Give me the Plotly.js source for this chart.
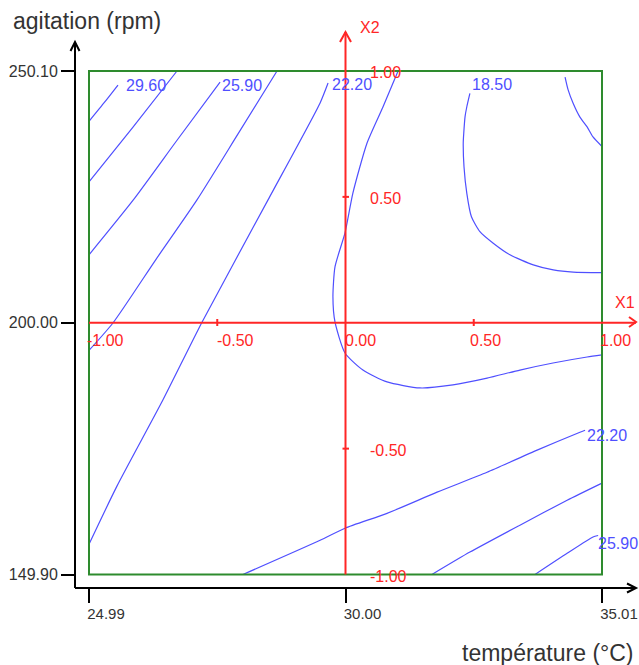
<!DOCTYPE html>
<html>
<head>
<meta charset="utf-8">
<script src="https://cdn.plot.ly/plotly-3.0.1.min.js"></script>
<style>html,body{margin:0;padding:0;background:#fff;}#chart{width:639px;height:665px;}</style>
</head>
<body>
<div id="chart"></div>
<script>
// ---------- DATA (coded units X1 / X2) ----------
const xTickVals = [-1, 0, 1];
const xTickText = ['24.99', '30.00', '35.01'];
const yTickVals = [-1, 0, 1];
const yTickText = ['149.90', '200.00', '250.10'];
const codedTickText = ['-1.00', '-0.50', '0.00', '0.50', '1.00'];
const contourLabels = ['29.60', '25.90', '22.20', '18.50', '22.20', '25.90'];

const c2960_x = [-1.0, -0.94, -0.887];
const c2960_y = [0.80, 0.875, 0.944];
const c2775_x = [-1.0, -0.83, -0.657];
const c2775_y = [0.56, 0.775, 1.0];
const c2590a_x = [-1.0, -0.828, -0.659, -0.489];
const c2590a_y = [0.27, 0.487, 0.722, 0.956];
const c2405a_x = [-1.0, -0.906, -0.74, -0.579, -0.419, -0.267];
const c2405a_y = [-0.11, 0.0, 0.25, 0.488, 0.75, 1.0];
const c2220a_x = [-1.0, -0.892, -0.712, -0.559, -0.302, -0.099, -0.068];
const c2220a_y = [-0.88, -0.651, -0.307, 0.003, 0.488, 0.873, 0.952];
const c2035_x = [0.205, 0.146, 0.084, 0.029, -0.002, -0.041, -0.049, -0.041, -0.002, 0.068, 0.162, 0.290, 0.419, 0.552, 0.680, 0.809, 0.942, 1.0];
const c2035_y = [1.0, 0.857, 0.714, 0.516, 0.357, 0.222, 0.103, 0.003, -0.120, -0.188, -0.235, -0.259, -0.247, -0.220, -0.188, -0.160, -0.136, -0.128];
const c1850_x = [0.485, 0.473, 0.466, 0.461, 0.459, 0.462, 0.473, 0.491, 0.524, 0.576, 0.641, 0.732, 0.810, 0.888, 1.0];
const c1850_y = [0.911, 0.858, 0.818, 0.753, 0.713, 0.620, 0.514, 0.421, 0.362, 0.316, 0.270, 0.230, 0.210, 0.201, 0.199];
const c1665_x = [0.856, 0.868, 0.887, 0.914, 0.942, 0.965, 1.0];
const c1665_y = [0.976, 0.925, 0.873, 0.817, 0.778, 0.738, 0.70];
const c2220b_x = [-0.40, -0.099, -0.002, 0.162, 0.357, 0.552, 0.747, 0.914, 0.934];
const c2220b_y = [-1.0, -0.864, -0.816, -0.757, -0.673, -0.594, -0.506, -0.435, -0.427];
const c2405b_x = [0.337, 0.485, 0.680, 0.864, 1.0];
const c2405b_y = [-1.0, -0.911, -0.804, -0.705, -0.637];
const c2590b_x = [0.739, 0.864, 0.965, 0.985];
const c2590b_y = [-1.0, -0.916, -0.851, -0.845];

// ---------- LAYOUT HELPERS (pixel -> coded / paper) ----------
const PX0 = 345.5, PXS = 256.5, PY0 = 322.75, PYS = 251.75;
const dx = p => (p - PX0) / PXS;
const dy = p => (PY0 - p) / PYS;
const L = 65, R = 639, T = 20, B = 598;
const qx = p => (p - L) / (R - L);
const qy = p => (B - p) / (B - T);

const BLUE = '#4f4fff', RED = '#ff2626', GREEN = '#2e8b2e', TXT = '#333333';
const FONT = 'Liberation Sans, Arial, sans-serif';

const lines = [
  [c2960_x, c2960_y], [c2775_x, c2775_y], [c2590a_x, c2590a_y], [c2405a_x, c2405a_y],
  [c2220a_x, c2220a_y], [c2035_x, c2035_y], [c1850_x, c1850_y], [c1665_x, c1665_y],
  [c2220b_x, c2220b_y], [c2405b_x, c2405b_y], [c2590b_x, c2590b_y]
];
const traces = lines.map(([x, y]) => ({
  type: 'scatter', mode: 'lines', x: x, y: y, hoverinfo: 'skip',
  line: {color: BLUE, width: 1.2, shape: 'spline', smoothing: 0.6}
}));

function seg(x0, y0, x1, y1, color, w) {
  return {type: 'line', xref: 'x', yref: 'y', x0: dx(x0), y0: dy(y0), x1: dx(x1), y1: dy(y1),
          line: {color: color, width: w}, layer: 'above'};
}
function pth(pts, color, w) {
  const d = pts.map((p, i) => (i ? 'L' : 'M') + dx(p[0]) + ',' + dy(p[1])).join(' ');
  return {type: 'path', xref: 'x', yref: 'y', path: d, line: {color: color, width: w}, layer: 'above'};
}

const shapes = [
  // green frame
  {type: 'rect', xref: 'x', yref: 'y', x0: -1, x1: 1, y0: -1, y1: 1, line: {color: GREEN, width: 2}, layer: 'above'},
  // red coded axes
  {type: 'line', xref: 'x', yref: 'y', x0: -1, x1: dx(636), y0: 0, y1: 0, line: {color: RED, width: 2}, layer: 'above'},
  {type: 'line', xref: 'x', yref: 'y', x0: 0, x1: 0, y0: -1, y1: dy(32), line: {color: RED, width: 2}, layer: 'above'},
  pth([[629, 317], [636, 322], [629, 327]], RED, 2),
  pth([[340, 42], [345.5, 32], [351, 42]], RED, 2),
  // red small ticks
  {type: 'line', xref: 'x', yref: 'y', x0: -0.5, x1: -0.5, y0: dy(319), y1: dy(326), line: {color: RED, width: 2}, layer: 'above'},
  {type: 'line', xref: 'x', yref: 'y', x0: 0.5, x1: 0.5, y0: dy(319), y1: dy(326), line: {color: RED, width: 2}, layer: 'above'},
  {type: 'line', xref: 'x', yref: 'y', x0: dx(342.5), x1: dx(349), y0: 0.5, y1: 0.5, line: {color: RED, width: 2}, layer: 'above'},
  {type: 'line', xref: 'x', yref: 'y', x0: dx(342.5), x1: dx(349), y0: -0.5, y1: -0.5, line: {color: RED, width: 2}, layer: 'above'},
  // black axes with arrows
  seg(75, 588, 75, 42, '#000', 2),
  seg(75, 588, 636, 588, '#000', 2),
  pth([[70.5, 51], [75, 42], [79.5, 51]], '#000', 2),
  pth([[627, 583.5], [636, 588], [627, 592.5]], '#000', 2)
];

function ann(text, px, py, color, size, xanchor) {
  return {text: text, xref: 'paper', yref: 'paper', x: qx(px), y: qy(py), showarrow: false,
          xanchor: xanchor || 'left', yanchor: 'middle', borderpad: 0,
          font: {family: FONT, size: size, color: color}};
}

const annotations = [
  ann('agitation (rpm)', 12, 21, TXT, 23),
  ann('température (°C)', 635, 653, TXT, 23, 'right'),
  // contour labels
  ann(contourLabels[0], 125, 86, BLUE, 16),
  ann(contourLabels[1], 221, 86, BLUE, 16),
  ann(contourLabels[2], 331, 85, BLUE, 16),
  ann(contourLabels[3], 471, 85, BLUE, 16),
  ann(contourLabels[4], 586, 435, BLUE, 16),
  ann(contourLabels[5], 639, 543, BLUE, 16, 'right'),
  // coded axis labels
  ann('X1', 614, 302, RED, 16),
  ann('X2', 359, 28, RED, 16),
  ann(codedTickText[0], 86, 340, RED, 16),
  ann(codedTickText[1], 216, 340, RED, 16),
  ann(codedTickText[2], 344, 340, RED, 16),
  ann(codedTickText[3], 469, 340, RED, 16),
  ann(codedTickText[4], 599, 340, RED, 16),
  ann(codedTickText[4], 369, 73, RED, 16),
  ann(codedTickText[3], 369, 198, RED, 16),
  ann(codedTickText[1], 369, 450, RED, 16),
  ann(codedTickText[0], 369, 576, RED, 16)
];

const layout = {
  width: 639, height: 665,
  margin: {l: L, r: 639 - R, t: T, b: 665 - B, pad: 0},
  paper_bgcolor: '#fff', plot_bgcolor: '#fff',
  showlegend: false,
  xaxis: {
    range: [dx(L), dx(R)], anchor: 'free', position: (B - 588) / (B - T),
    showgrid: false, zeroline: false, showline: false,
    tickmode: 'array', tickvals: xTickVals, ticktext: xTickText,
    ticks: 'outside', ticklen: 14, tickwidth: 2, tickcolor: '#000',
    ticklabelshift: 17, ticklabelstandoff: -2, ticklabeloverflow: 'allow',
    tickfont: {family: FONT, size: 15, color: TXT}, fixedrange: true
  },
  yaxis: {
    range: [dy(B), dy(T)], anchor: 'free', position: (75 - L) / (R - L),
    showgrid: false, zeroline: false, showline: false,
    tickmode: 'array', tickvals: yTickVals, ticktext: yTickText,
    ticks: 'outside', ticklen: 14, tickwidth: 2, tickcolor: '#000',
    ticklabeloverflow: 'allow',
    tickfont: {family: FONT, size: 16, color: TXT}, fixedrange: true
  },
  shapes: shapes,
  annotations: annotations
};

Plotly.newPlot('chart', traces, layout, {staticPlot: true, displayModeBar: false});
</script>
</body>
</html>
